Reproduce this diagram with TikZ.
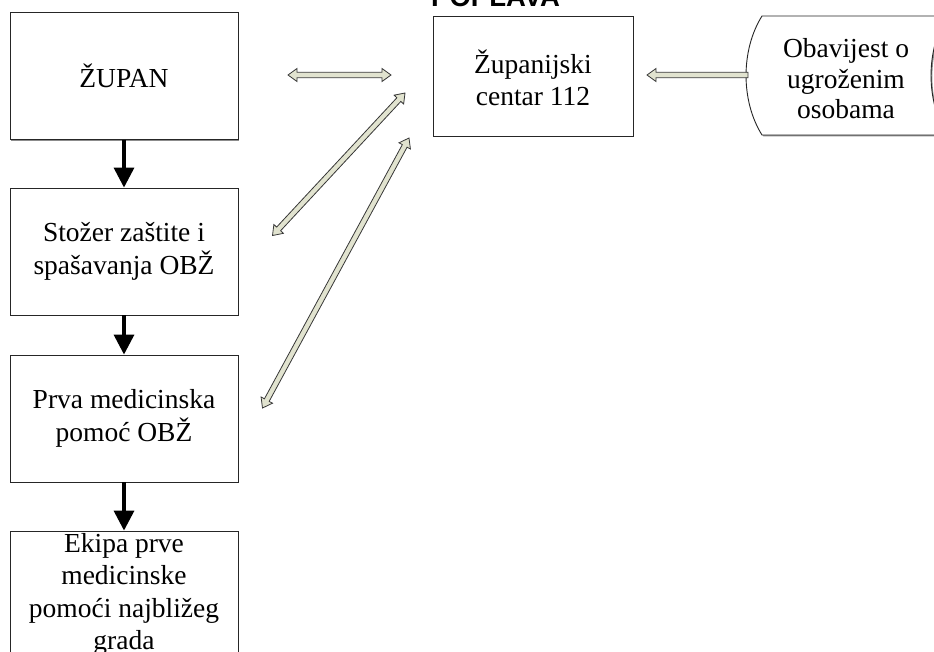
\documentclass[tikz,border=0pt]{standalone}
\usepackage{fontspec}
\setmainfont{Liberation Serif}
\newfontfamily\headfont{Liberation Sans}
\usetikzlibrary{calc,arrows.meta,shadows}

\definecolor{arrowfill}{RGB}{225,227,207}
\definecolor{arrowline}{RGB}{55,55,55}

\tikzset{
  boxshadow/.style={drop shadow={shadow xshift=1.3pt, shadow yshift=-1.3pt, fill=black!45, opacity=1}},
  box/.style={draw=black!85, line width=0.9pt, fill=white, minimum width=228pt,
    minimum height=127pt, inner sep=0pt, align=center,
    font=\fontsize{27.5}{32.5}\selectfont, boxshadow},
  txt/.style={align=center, inner sep=0pt, font=\fontsize{27.5}{30.5}\selectfont},
  flow/.style={line width=3.5pt, -{Triangle[width=20pt,length=20pt]}},
  hollow/.style={fill=arrowfill, draw=arrowline, line width=0.8pt, line join=miter}
}

% hollow block arrow with a head at both ends
\newcommand\hollowtwo[2]{%
  \coordinate (hA) at ($(#1)!9pt!(#2)$);
  \coordinate (hB) at ($(#2)!9pt!(#1)$);
  \filldraw[hollow] (#1) -- ($(hA)!6.5pt!90:(#2)$) -- ($(hA)!2.7pt!90:(#2)$)
    -- ($(hB)!2.7pt!-90:(#1)$) -- ($(hB)!6.5pt!-90:(#1)$) -- (#2)
    -- ($(hB)!6.5pt!90:(#1)$) -- ($(hB)!2.7pt!90:(#1)$)
    -- ($(hA)!2.7pt!-90:(#2)$) -- ($(hA)!6.5pt!-90:(#2)$) -- cycle;}

% hollow block arrow with a single head at the second point
\newcommand\hollowone[2]{%
  \coordinate (hB) at ($(#2)!9pt!(#1)$);
  \filldraw[hollow] ($(#1)!2.7pt!90:(#2)$) -- ($(hB)!2.7pt!-90:(#1)$)
    -- ($(hB)!6.5pt!-90:(#1)$) -- (#2) -- ($(hB)!6.5pt!90:(#1)$)
    -- ($(hB)!2.7pt!90:(#1)$) -- ($(#1)!2.7pt!-90:(#2)$) -- cycle;}

\begin{document}
\begin{tikzpicture}[x=1pt,y=-1pt]
\useasboundingbox (0,0) rectangle (934,651);
\clip (0,0) rectangle (934,651);

% heading, partly above the page edge
\node[anchor=base west, inner sep=0pt,
      font=\headfont\bfseries\fontsize{27.5}{30}\selectfont] (title) at (431,6) {POPLAVA};

% chain of command on the left
\node[box] (zupan)  at (124,75.75) {ŽUPAN};
\node[box] (stozer) at (124,251.5) {Stožer zaštite i\\spašavanja OBŽ};
\node[box] (prva)   at (124,418.5) {Prva medicinska\\pomoć OBŽ};
\node[box] (ekipa)  at (124,594.5) {Ekipa prve\\medicinske\\pomoći najbližeg\\grada};

\draw[flow] (zupan.south) -- (stozer.north);
\draw[flow] (stozer.south) -- (prva.north);
\draw[flow] (prva.south) -- (ekipa.north);

% county centre 112
\node[box, minimum width=200pt, minimum height=120pt] (centar) at (533,76) {};
\node[txt, font=\fontsize{27.5}{32.5}\selectfont] (centartxt) at (533,78) {Županijski\\centar 112};

% report source, stored-data outline
\filldraw[draw=black!85, line width=0.9pt, fill=white, boxshadow]
  (762,16) -- (947,16) .. controls (925.7,50) and (925.7,101) .. (947,135)
  -- (762,135) .. controls (740.7,101) and (740.7,50) .. cycle;
\node[txt] (obav) at (846,79) {Obavijest o\\ugroženim\\osobama};

% block arrows
\coordinate (obavW) at (748,75);
\coordinate (centarE) at (647,75);
\hollowone{obavW}{centarE}

\coordinate (hL) at (288,75);
\coordinate (hR) at (391,75);
\hollowtwo{hL}{hR}

\coordinate (d1a) at (272.5,235.5);
\coordinate (d1b) at (405,93);
\hollowtwo{d1a}{d1b}

\coordinate (d2a) at (262.5,408);
\coordinate (d2b) at (409,138);
\hollowtwo{d2a}{d2b}
\end{tikzpicture}
\end{document}
